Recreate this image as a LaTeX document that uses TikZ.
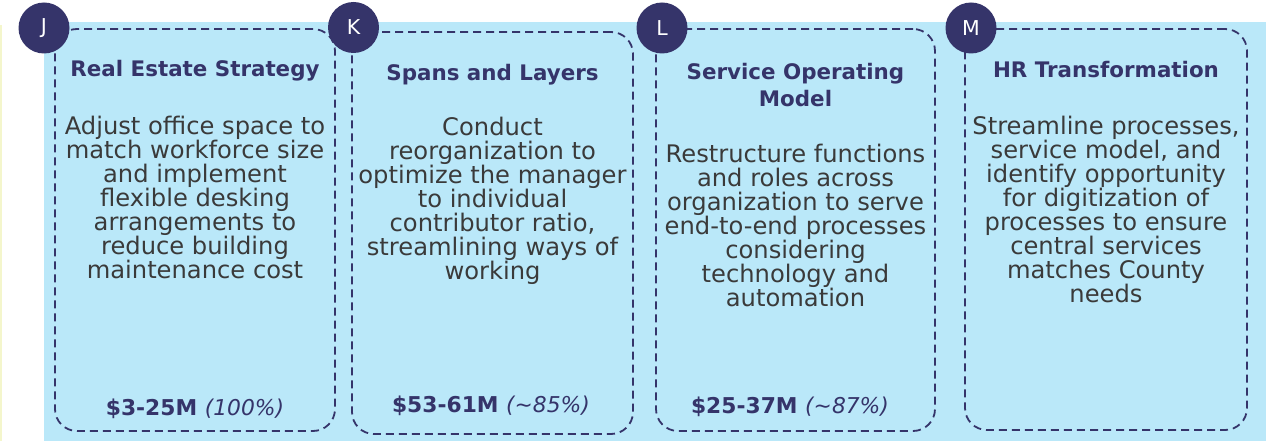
\documentclass[tikz,border=0pt]{standalone}
\usepackage{fontspec}
\setmainfont{DejaVu Sans}
\definecolor{navy}{HTML}{35346A}
\definecolor{bodytxt}{HTML}{3A3A3A}
\definecolor{panel}{HTML}{BAE8F9}
\definecolor{edgeline}{HTML}{F4F6CC}
\begin{document}
\begin{tikzpicture}[x=1pt,y=-1pt,
  card/.style={draw=navy, line width=1.8pt, dash pattern=on 8pt off 5pt,
    rounded corners=22pt, inner sep=0pt},
  badge/.style={circle, fill=navy, minimum size=51pt, inner sep=0pt,
    text=white, font=\fontsize{20.5}{22}\selectfont},
  title/.style={anchor=base, text=navy, align=center,
    font=\fontsize{21.4}{28}\selectfont\bfseries},
  body/.style={anchor=north, text=bodytxt, align=center,
    font=\fontsize{24.2}{24}\selectfont},
  amount/.style={anchor=base, text=navy,
    font=\fontsize{21.8}{24}\selectfont\bfseries}]
\useasboundingbox (0,0) rectangle (1266,441);
% panel behind the cards
\fill[panel] (44,22) rectangle (1266,441);
\draw[edgeline, line width=2pt] (1,25) -- (1,441);

% cards
\node[card, minimum width=280pt, minimum height=402pt] (cardJ) at (195,230) {};
\node[card, minimum width=281pt, minimum height=402pt] (cardK) at (492.5,233) {};
\node[card, minimum width=279pt, minimum height=402pt] (cardL) at (795.5,230) {};
\node[card, minimum width=282pt, minimum height=401pt] (cardM) at (1106,229.5) {};

% letter badges
\node[badge] (badgeJ) at (44,28) {J};
\node[badge] (badgeK) at (353.5,27.5) {K};
\node[badge] (badgeL) at (662,28) {L};
\node[badge] (badgeM) at (971,28) {M};

% card J
\node[title] (titleJ) at (195,77) {Real Estate Strategy};
\node[body] (bodyJ) at (195,113) {Adjust office space to\\match workforce size\\and implement\\flexible desking\\arrangements to\\reduce building\\maintenance cost};
\node[amount] (amtJ) at (195,415) {\$3-25M \textit{\mdseries(100\%)}};

% card K
\node[title] (titleK) at (492.5,81) {Spans and Layers};
\node[body] (bodyK) at (492.5,114) {Conduct\\reorganization to\\optimize the manager\\to individual\\contributor ratio,\\streamlining ways of\\working};
\node[amount] (amtK) at (491,412) {\$53-61M \textit{\mdseries(\textasciitilde85\%)}};

% card L
\node[title] (titleL) at (795.5,107) {Service Operating\\Model};
\node[body] (bodyL) at (795.5,141) {Restructure functions\\and roles across\\organization to serve\\end-to-end processes\\considering\\technology and\\automation};
\node[amount] (amtL) at (790,413) {\$25-37M \textit{\mdseries(\textasciitilde87\%)}};

% card M
\node[title] (titleM) at (1106,78) {HR Transformation};
\node[body] (bodyM) at (1106,113) {Streamline processes,\\service model, and\\identify opportunity\\for digitization of\\processes to ensure\\central services\\matches County\\needs};
\end{tikzpicture}
\end{document}
